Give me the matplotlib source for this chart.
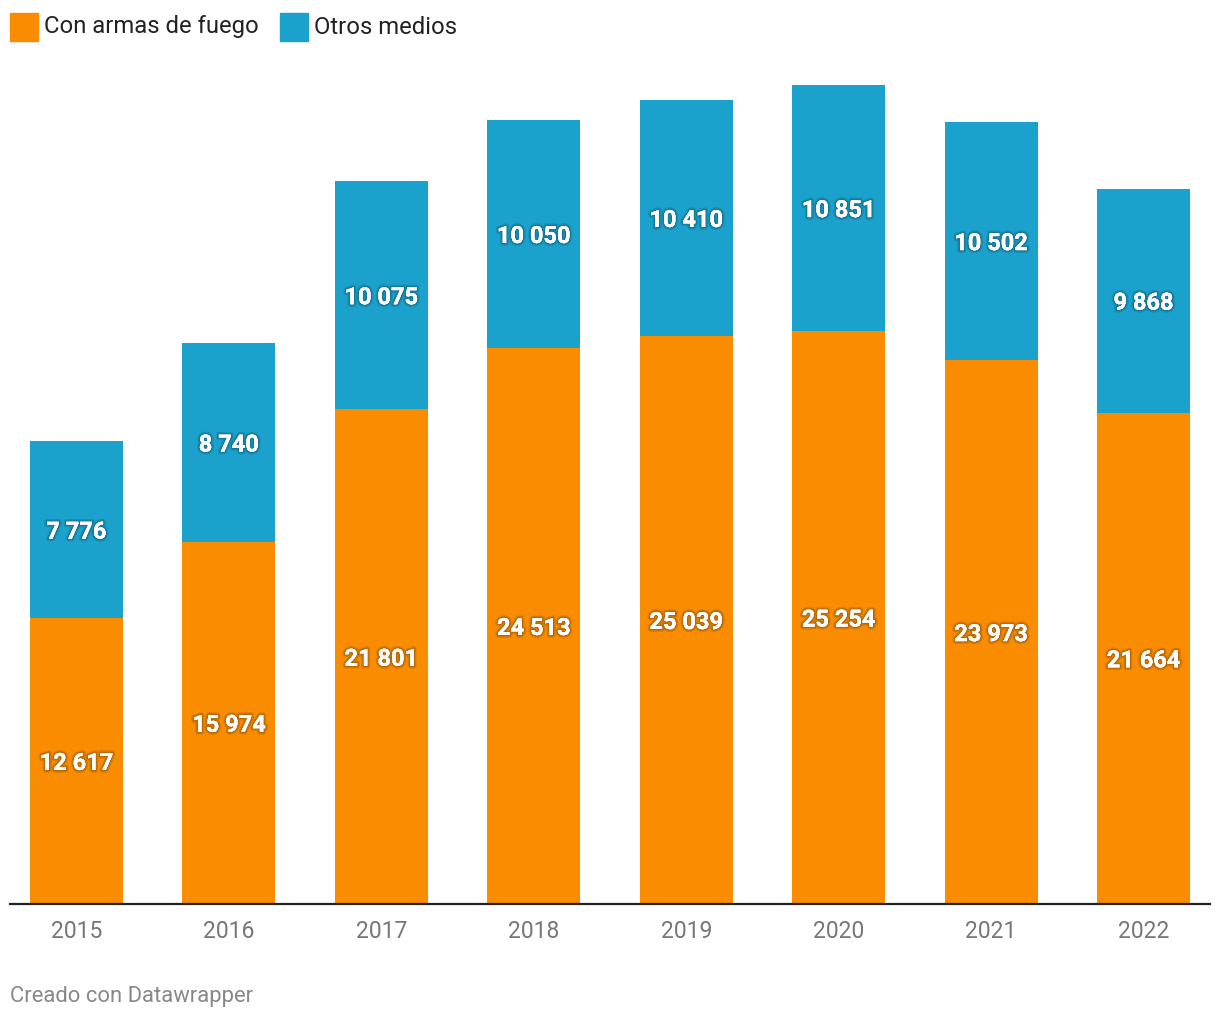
import matplotlib
matplotlib.use('Agg')
import matplotlib.pyplot as plt
import matplotlib.patheffects as pe
from matplotlib.patches import Rectangle
import numpy as np

plt.rcParams['font.family'] = ['Roboto', 'DejaVu Sans']

years = ['2015', '2016', '2017', '2018', '2019', '2020', '2021', '2022']
armas = [12617, 15974, 21801, 24513, 25039, 25254, 23973, 21664]
otros = [7776, 8740, 10075, 10050, 10410, 10851, 10502, 9868]
series = ['Con armas de fuego', 'Otros medios']
colores = ['#F98C00', '#1AA1CC']

def fmt(v):
    return f'{v:,}'.replace(',', ' ')

fig = plt.figure(figsize=(12.2, 10.2), dpi=100)
ax = fig.add_axes([10/1220, (1020-905)/1020, 1200/1220, (905-62)/1020])

x = np.arange(len(years))
w = 0.61
ax.bar(x, armas, w, color=colores[0])
ax.bar(x, otros, w, bottom=armas, color=colores[1])

sombra = [pe.withStroke(linewidth=4, foreground=(0, 0, 0, 0.12)),
          pe.withStroke(linewidth=2, foreground=(0, 0, 0, 0.15)), pe.Normal()]
for i in range(len(years)):
    ax.text(x[i], armas[i] / 2, fmt(armas[i]), ha='center', va='center_baseline',
            color='white', fontsize=17, fontweight='bold', path_effects=sombra)
    ax.text(x[i], armas[i] + otros[i] / 2, fmt(otros[i]), ha='center', va='center_baseline',
            color='white', fontsize=17, fontweight='bold', path_effects=sombra)

ax.set_xlim(-0.436, 7.436)
ax.set_ylim(0, 37163)
ax.set_xticks(x)
ax.set_xticklabels(years, fontsize=16.5, color='#777777')
ax.tick_params(axis='x', length=0, pad=11)
ax.set_yticks([])
for s in ['top', 'right', 'left']:
    ax.spines[s].set_visible(False)
ax.spines['bottom'].set_linewidth(1.6)
ax.spines['bottom'].set_color('#222222')

# leyenda
pos = [10, 280]
for i in range(len(series)):
    fig.patches.append(Rectangle((pos[i]/1220, 1 - 42/1020), 28/1220, 28/1020,
                                 transform=fig.transFigure, color=colores[i]))
    fig.text((pos[i] + 34)/1220, 1 - 27/1020, series[i], fontsize=17.2,
             color='#222222', va='center', ha='left')

fig.text(10/1220, 1 - 997/1020, 'Creado con Datawrapper', fontsize=15.8,
         color='#888888', va='center', ha='left')

fig.savefig('out.png', dpi=100)
